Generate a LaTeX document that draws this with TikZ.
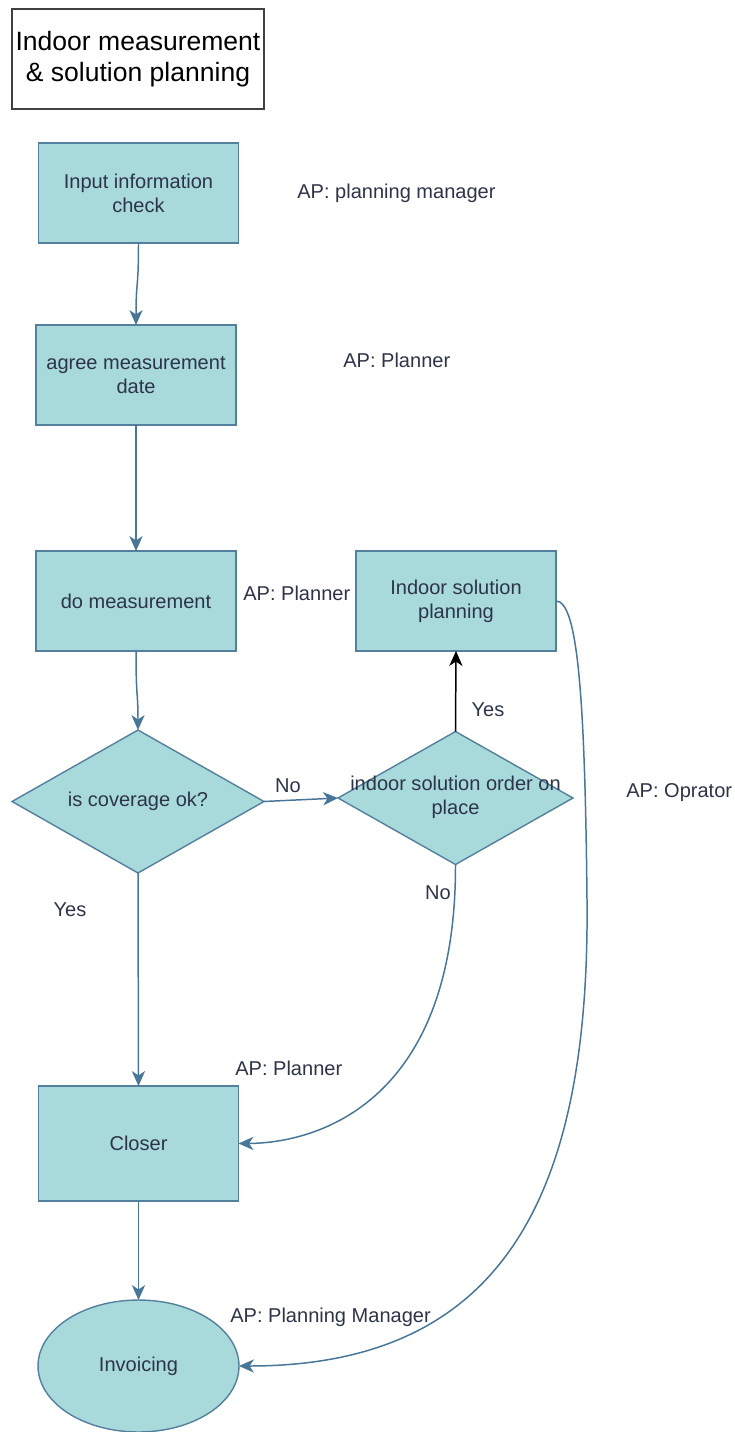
\documentclass[tikz,border=0pt]{standalone}
\usepackage{fontspec}
\setmainfont{Liberation Sans}
\usetikzlibrary{shapes.geometric,arrows.meta}

\definecolor{boxfill}{RGB}{168,218,220}
\definecolor{boxline}{RGB}{84,128,158}
\definecolor{linkcol}{RGB}{72,118,152}
\definecolor{txtcol}{RGB}{45,52,72}

\tikzset{
  stepbox/.style={draw=boxline, fill=boxfill, line width=0.8pt, inner sep=0pt, outer sep=0pt,
    minimum width=4cm, minimum height=2cm, align=center, text=txtcol,
    font=\fontsize{11.4}{13.6}\selectfont},
  decision/.style={diamond, draw=boxline, fill=boxfill, line width=0.8pt, inner sep=0pt, outer sep=0pt,
    minimum width=4.9cm, minimum height=2.8cm},
  endstate/.style={ellipse, draw=boxline, fill=boxfill, line width=0.8pt, inner sep=0pt, outer sep=0pt,
    minimum width=4.02cm, minimum height=2.64cm, text=txtcol, font=\fontsize{11.4}{13.6}\selectfont},
  boxtext/.style={align=center, text=txtcol, inner sep=0pt, font=\fontsize{11.4}{13.6}\selectfont},
  note/.style={anchor=west, inner sep=0pt, text=txtcol, font=\fontsize{11.4}{13.6}\selectfont},
  link/.style={draw=linkcol, line width=0.85pt, -{Stealth[length=8.5pt,width=7.5pt,inset=2.5pt]}},
  blacklink/.style={draw=black, line width=0.85pt, -{Stealth[length=8.5pt,width=7.5pt,inset=2.5pt]}},
}

\begin{document}
\begin{tikzpicture}[x=0.02cm, y=-0.02cm]
\useasboundingbox (0,0) rectangle (734,1432);

% title
\node[draw=black!75, line width=0.9pt, minimum width=5.04cm, minimum height=2cm, inner sep=0pt,
  align=center, font=\fontsize{15.1}{17.6}\selectfont] (title) at (138,59)
  {Indoor measurement\\\& solution planning};

% process steps
\node[stepbox] (check) at (138.5,193) {Input information\\check};
\node[stepbox] (agree) at (136,375) {agree measurement\\date};
\node[stepbox] (measure) at (136,601) {do measurement};
\node[stepbox] (plan) at (456,601) {Indoor solution\\planning};
\node[stepbox, minimum height=2.3cm] (closer) at (138.5,1143.5) {Closer};
\node[endstate] (invoice) at (138.5,1366) {Invoicing};

% decisions
\node[decision, minimum width=5.04cm, minimum height=2.86cm] (cov) at (138,801.5) {};
\node[boxtext] at (cov) {is coverage ok?};
\node[decision, minimum width=4.7cm, minimum height=2.66cm] (order) at (455.5,798) {};
\node[boxtext] at (455.5,797) {indoor solution order on\\place};

% responsibilities
\node[note] (ap1) at (297,193) {AP: planning manager};
\node[note] (ap2) at (343,360) {AP: Planner};
\node[note] (ap3) at (243,593) {AP: Planner};
\node[note] (ap4) at (626,793) {AP: Oprator};
\node[note] (ap5) at (235,1068) {AP: Planner};
\node[note] (ap6) at (230,1317) {AP: Planning Manager};

% branch labels
\node[boxtext] (no1) at (288,786) {No};
\node[boxtext] (yes2) at (488,710) {Yes};
\node[boxtext] (yes1) at (70,910) {Yes};
\node[boxtext] (no2) at (438,893) {No};

% connectors
\draw[link] (check.south) .. controls (138.5,290) and (136,280) .. (agree.north);
\draw[link] (agree.south) -- (measure.north);
\draw[link] (measure.south) .. controls (136,700) and (138,690) .. (cov.north);
\draw[link] (cov.east) -- (order.west);
\draw[blacklink] (order.north) -- (plan.south);
\draw[link] (cov.south) -- (closer.north);
\draw[link] (order.south) .. controls (456,1100) and (320,1143) .. (closer.east);
\draw[link] (closer.south) -- (invoice.north);
\draw[link] (plan.east) .. controls (578,601) and (585,700) .. (587,900)
  .. controls (590,1200) and (500,1366) .. (invoice.east);

\end{tikzpicture}
\end{document}
